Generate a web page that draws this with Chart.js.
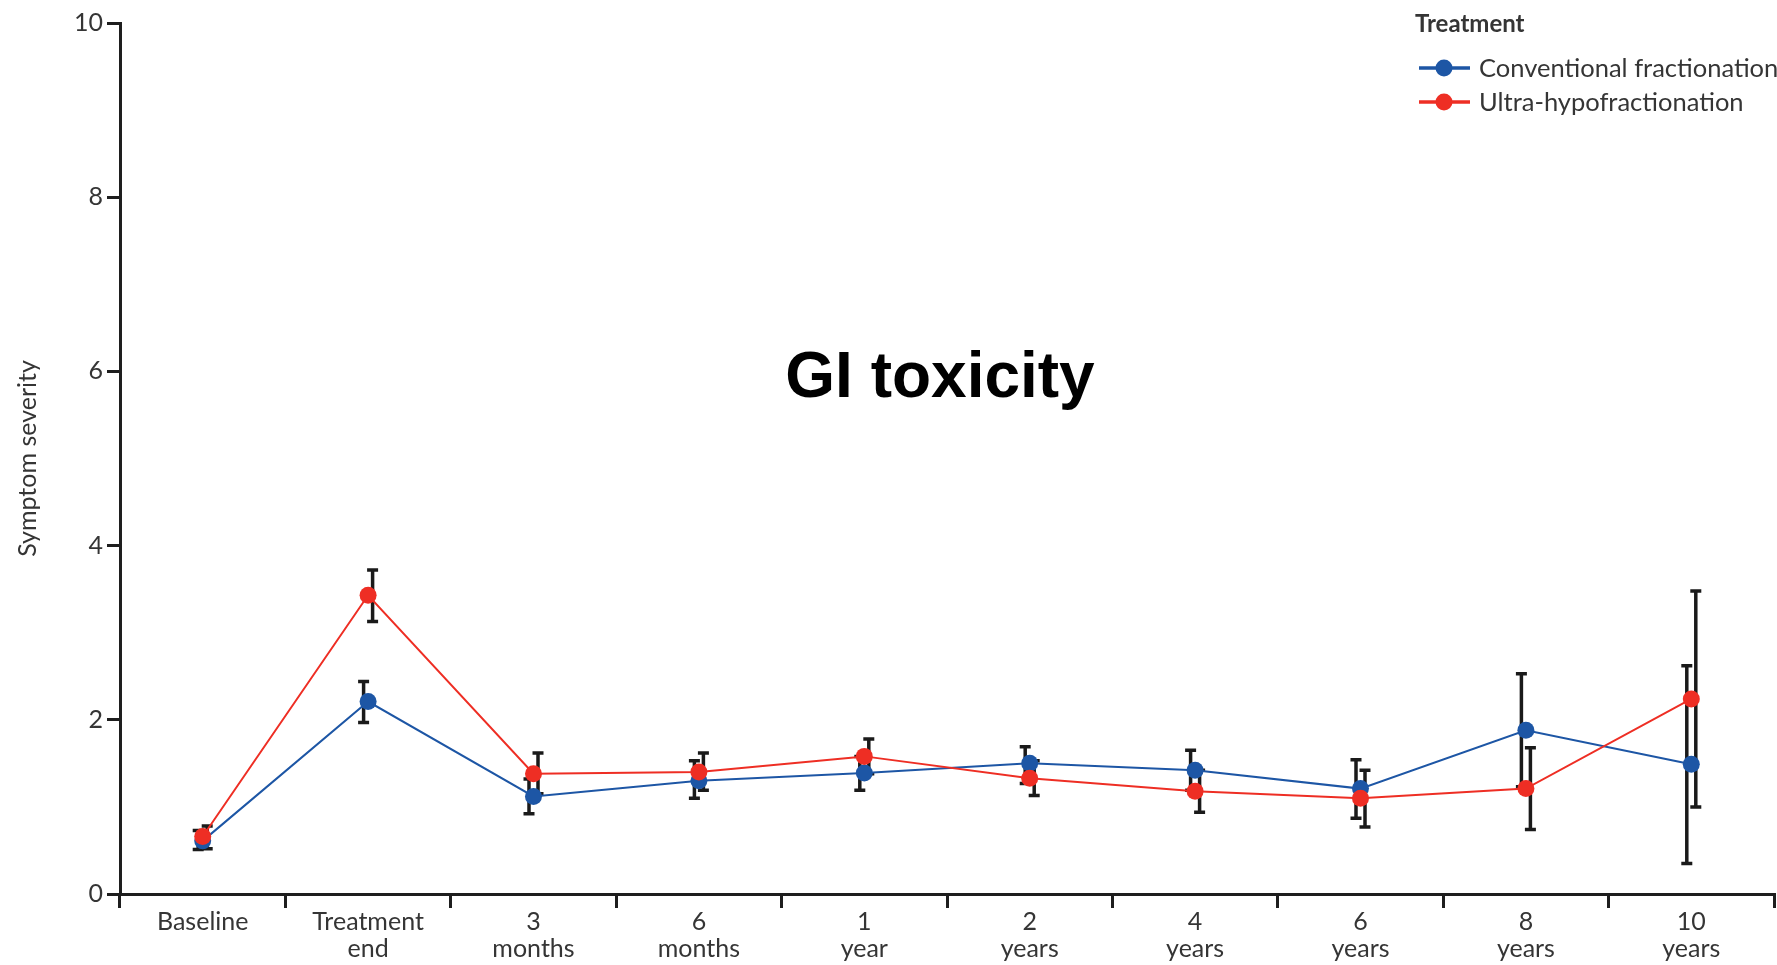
<!DOCTYPE html>
<html>
<head>
<meta charset="utf-8">
<script src="https://cdn.jsdelivr.net/npm/chart.js@4.4.0/dist/chart.umd.min.js"></script>
<style>
html,body{margin:0;padding:0;background:#fff;}
#wrap{width:1777px;height:965px;position:relative;}
</style>
</head>
<body>
<div id="wrap"><canvas id="c" width="1777" height="965"></canvas></div>
<script>
// ---- Data ----
const categories = [['Baseline'], ['Treatment', 'end'], ['3', 'months'], ['6', 'months'], ['1', 'year'], ['2', 'years'], ['4', 'years'], ['6', 'years'], ['8', 'years'], ['10', 'years']];
const yTicks = [0, 2, 4, 6, 8, 10];

const conventional     = [0.61, 2.21, 1.12, 1.30, 1.39, 1.50, 1.42, 1.21, 1.88, 1.49];
const conventionalLow  = [0.51, 1.97, 0.92, 1.10, 1.19, 1.27, 1.19, 0.87, 1.23, 0.35];
const conventionalHigh = [0.73, 2.44, 1.32, 1.53, 1.58, 1.69, 1.65, 1.54, 2.53, 2.62];

const ultra     = [0.66, 3.43, 1.38, 1.40, 1.58, 1.33, 1.18, 1.10, 1.21, 2.24];
const ultraLow  = [0.52, 3.13, 1.15, 1.19, 1.38, 1.13, 0.94, 0.77, 0.74, 1.00];
const ultraHigh = [0.78, 3.72, 1.62, 1.62, 1.78, 1.53, 1.42, 1.42, 1.68, 3.48];

const seriesNames = ['Conventional fractionation', 'Ultra-hypofractionation'];
const legendTitle = 'Treatment';
const chartTitle = 'GI toxicity';
const yAxisTitle = 'Symptom severity';

// ---- Styles ----
const BLUE = '#1d56a5';
const RED = '#ee2e24';
const AXIS = '#1e1e1e';
const TEXT = '#353535';
const FONT = 'Lato, "Open Sans", sans-serif';

const errorBarPlugin = {
  id: 'errorBars',
  beforeDatasetsDraw(chart) {
    const { ctx, scales: { x, y } } = chart;
    ctx.save();
    ctx.strokeStyle = '#1a1a1a';
    ctx.lineWidth = 3.5;
    ctx.lineCap = 'butt';
    chart.data.datasets.forEach((ds) => {
      const off = ds.errOffset;
      ds.errLow.forEach((lo, j) => {
        const px = x.getPixelForValue(j) + off;
        const yl = y.getPixelForValue(lo);
        const yh = y.getPixelForValue(ds.errHigh[j]);
        ctx.beginPath();
        ctx.moveTo(px, yl); ctx.lineTo(px, yh);
        ctx.moveTo(px - 5.5, yl); ctx.lineTo(px + 5.5, yl);
        ctx.moveTo(px - 5.5, yh); ctx.lineTo(px + 5.5, yh);
        ctx.stroke();
      });
    });
    ctx.restore();
  }
};

const annotationPlugin = {
  id: 'annotations',
  afterDraw(chart) {
    const { ctx } = chart;
    ctx.save();
    // Title inside plot
    ctx.fillStyle = '#000';
    ctx.font = 'bold 64px "Liberation Sans", Arial, sans-serif';
    ctx.textAlign = 'center';
    ctx.textBaseline = 'alphabetic';
    ctx.fillText(chartTitle, 940, 397);

    // Legend
    ctx.textAlign = 'left';
    ctx.textBaseline = 'middle';
    ctx.fillStyle = TEXT;
    ctx.font = 'bold 24px ' + FONT;
    ctx.fillText(legendTitle, 1415, 24);
    const colors = [BLUE, RED];
    const ys = [68, 102];
    ctx.font = '25.5px ' + FONT;
    seriesNames.forEach((name, i) => {
      ctx.strokeStyle = colors[i];
      ctx.lineWidth = 3.5;
      ctx.beginPath();
      ctx.moveTo(1419, ys[i]); ctx.lineTo(1470, ys[i]);
      ctx.stroke();
      ctx.fillStyle = colors[i];
      ctx.beginPath();
      ctx.arc(1444, ys[i], 8.5, 0, Math.PI * 2);
      ctx.fill();
      ctx.fillStyle = TEXT;
      ctx.fillText(name, 1479, ys[i] + 1);
    });
    ctx.restore();
  }
};

const chart = new Chart(document.getElementById('c'), {
  type: 'line',
  data: {
    labels: categories,
    datasets: [
      {
        label: seriesNames[0],
        data: conventional,
        errLow: conventionalLow,
        errHigh: conventionalHigh,
        errOffset: -4.5,
        borderColor: BLUE,
        backgroundColor: BLUE,
        borderWidth: 2,
        pointRadius: 8.5,
        pointBorderWidth: 0,
        pointBackgroundColor: BLUE,
        tension: 0,
        order: 1
      },
      {
        label: seriesNames[1],
        data: ultra,
        errLow: ultraLow,
        errHigh: ultraHigh,
        errOffset: 4.5,
        borderColor: RED,
        backgroundColor: RED,
        borderWidth: 2,
        pointRadius: 8.5,
        pointBorderWidth: 0,
        pointBackgroundColor: RED,
        tension: 0,
        order: 0
      }
    ]
  },
  options: {
    responsive: false,
    animation: false,
    layout: { autoPadding: false, padding: { left: 0, top: 23, right: 3, bottom: 0 } },
    plugins: { legend: { display: false }, tooltip: { enabled: false } },
    scales: {
      x: {
        type: 'category',
        offset: true,
        grid: { display: true, offset: true, drawOnChartArea: false, drawTicks: true, tickLength: 14, lineWidth: 3, color: AXIS },
        border: { display: true, width: 3, color: AXIS },
        ticks: { font: { family: FONT, size: 25, lineHeight: 1.08 }, color: TEXT, padding: 0, maxRotation: 0, autoSkip: false },
        afterFit(s) { s.height = 71; s.paddingRight = 0; }
      },
      y: {
        min: 0,
        max: 10,
        afterBuildTicks(s) { s.ticks = yTicks.map(v => ({ value: v })); },
        grid: { display: true, drawOnChartArea: false, drawTicks: true, tickLength: 13, lineWidth: 3, color: AXIS },
        border: { display: true, width: 3, color: AXIS },
        ticks: { font: { family: FONT, size: 25 }, color: TEXT, padding: 4 },
        title: { display: true, text: yAxisTitle, font: { family: FONT, size: 25 }, color: TEXT, padding: { top: 13, bottom: 0 } },
        afterFit(s) { s.width = 120; }
      }
    }
  },
  plugins: [errorBarPlugin, annotationPlugin]
});
</script>
</body>
</html>
